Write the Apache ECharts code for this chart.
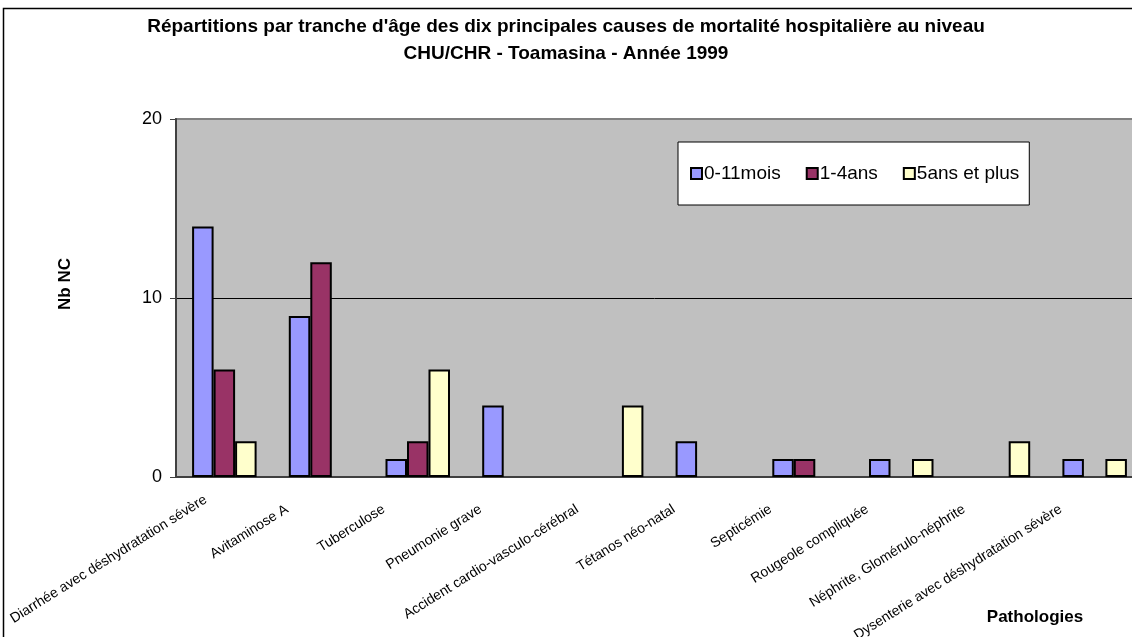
<!DOCTYPE html>
<html>
<head>
<meta charset="utf-8">
<script src="https://cdn.jsdelivr.net/npm/echarts@6/dist/echarts.min.js"></script>
<style>
  html, body { margin: 0; padding: 0; background: #fff; }
  #main { width: 1132px; height: 637px; }
</style>
</head>
<body>
<div id="main"></div>
<script>
var pathologies = [
  'Diarrhée avec déshydratation sévère',
  'Avitaminose A',
  'Tuberculose',
  'Pneumonie grave',
  'Accident cardio-vasculo-cérébral',
  'Tétanos néo-natal',
  'Septicémie',
  'Rougeole compliquée',
  'Néphrite, Glomérulo-néphrite',
  'Dysenterie avec déshydratation sévère'
];
var ageGroups = ['0-11mois', '1-4ans', '5ans et plus'];
var mois0a11 = [14, 9, 1, 4, 0, 2, 1, 1, 0, 1];
var ans1a4 = [6, 12, 2, 0, 0, 0, 1, 0, 0, 0];
var ans5plus = [2, 0, 6, 0, 4, 0, 0, 1, 2, 1];
var yTicks = [0, 10, 20];

var colors = ['#9999ff', '#993366', '#ffffcc'];
var values = [mois0a11, ans1a4, ans5plus];

var chart = echarts.init(document.getElementById('main'), null, { renderer: 'canvas' });

var option = {
  animation: false,
  color: colors,
  textStyle: { fontFamily: 'Liberation Sans, Arial, sans-serif', color: '#000' },
  title: {
    text: "Répartitions par tranche d'âge des dix principales causes de mortalité hospitalière au niveau\nCHU/CHR - Toamasina - Année 1999",
    left: 'center',
    top: 8,
    textStyle: { fontSize: 19, fontWeight: 'bold', lineHeight: 27, color: '#000' }
  },
  legend: {
    data: ageGroups,
    left: 678,
    top: 142,
    orient: 'horizontal',
    icon: 'rect',
    itemWidth: 11,
    itemHeight: 11,
    itemGap: 25,
    padding: [22, 10, 22, 12],
    backgroundColor: '#fff',
    borderColor: '#000',
    borderWidth: 1,
    textStyle: { fontSize: 19, color: '#000', padding: [0, 0, 0, -3] }
  },
  grid: {
    left: 176,
    top: 119,
    width: 967,
    height: 358,
    outerBoundsMode: 'none',
    containLabel: false,
    show: true,
    backgroundColor: '#c0c0c0',
    borderColor: '#808080',
    borderWidth: 2
  },
  xAxis: {
    type: 'category',
    data: pathologies,
    axisLine: { show: true, lineStyle: { color: '#404040', width: 2 } },
    axisTick: { show: false },
    axisLabel: {
      interval: 0,
      rotate: 32,
      fontSize: 14,
      color: '#000',
      margin: 10,
      // the first (long) label sits closer to its tick in the original
      formatter: function (value, idx) {
        return idx === 0 ? '{near|' + value + '}' : '{far|' + value + '}';
      },
      rich: {
        near: { fontSize: 14, padding: [0, 22, 0, 0] },
        far: { fontSize: 14, padding: [0, 40, 0, 0] }
      }
    }
  },
  yAxis: {
    type: 'value',
    min: yTicks[0],
    max: yTicks[yTicks.length - 1],
    interval: 10,
    axisLine: { show: true, lineStyle: { color: '#404040', width: 2 } },
    axisTick: { show: true, inside: false, length: 6, lineStyle: { color: '#404040', width: 1 } },
    axisLabel: { fontSize: 18, color: '#000', margin: 14 },
    splitLine: { show: true, lineStyle: { color: ['#404040', '#000', '#808080'], width: 1 } }
  },
  series: ageGroups.map(function (name, i) {
    return {
      name: name,
      type: 'bar',
      // zero counts are left empty, as in the original chart
      data: values[i].map(function (v) { return v === 0 ? '-' : v; }),
      barGap: '0%',
      barCategoryGap: '33.3%',
      itemStyle: { color: colors[i], borderColor: '#000', borderWidth: 2 }
    };
  }),
  graphic: [
    {
      type: 'rect',
      shape: { x: 3.5, y: 8.5, width: 1200, height: 700 },
      style: { fill: 'none', stroke: '#000', lineWidth: 1.5 },
      z: 100
    },
    {
      type: 'text',
      x: 65,
      y: 284,
      rotation: Math.PI / 2,
      style: { text: 'Nb NC', font: 'bold 17px Liberation Sans, Arial, sans-serif', fill: '#000', align: 'center', verticalAlign: 'middle' }
    },
    {
      type: 'text',
      x: 1035,
      y: 617,
      style: { text: 'Pathologies', font: 'bold 17px Liberation Sans, Arial, sans-serif', fill: '#000', align: 'center', verticalAlign: 'middle' }
    }
  ]
};

chart.setOption(option);
</script>
</body>
</html>
